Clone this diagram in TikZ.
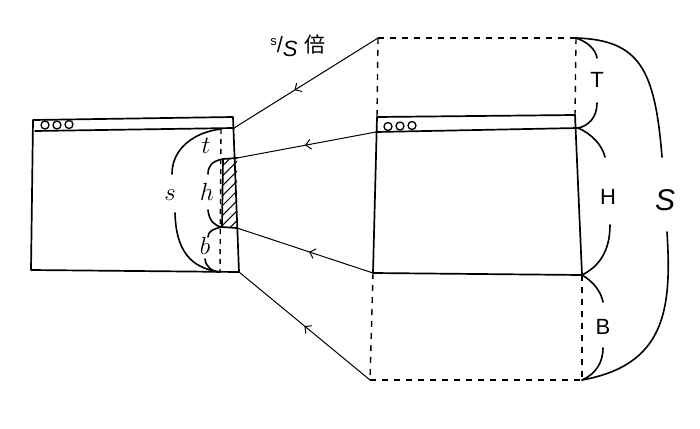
\documentclass[tikz,border=0pt]{standalone}
\usepackage{fontspec}
\setmainfont{Liberation Sans}
\newfontfamily\cjk{Noto Sans CJK JP}
\usetikzlibrary{decorations.markings,patterns.meta,arrows.meta}
\tikzset{
  box/.style={line width=1.7pt, line cap=round, line join=round},
  dashline/.style={line width=1.4pt, dash pattern=on 6pt off 6pt},
  brace/.style={line width=1.6pt, line cap=round},
  conn/.style={line width=1pt, postaction={decorate},
    decoration={markings, mark=at position #1 with {\arrow{Straight Barb[length=5pt,width=10pt,line width=1pt]}}}},
  lbl/.style={font=\fontsize{22}{22}\selectfont, inner sep=0pt},
  llbl/.style={font=\fontsize{24}{24}\selectfont, inner sep=0pt},
  dot/.style={circle, draw, line width=1.3pt, minimum size=8pt, inner sep=0pt},
}
\begin{document}
\begin{tikzpicture}[x=1pt,y=-1pt]
\useasboundingbox (0,0) rectangle (700,428);
\fill[white] (0,0) rectangle (700,428);
% ---------- small browser (left)
\coordinate (sTL) at (33,120);
\coordinate (sTR) at (233,117);
\coordinate (sBarL) at (35,131);
\coordinate (sBarR) at (234,128);
\coordinate (sBL) at (31,270);
\coordinate (sBR) at (239,272);
\coordinate (sDT) at (221,129);
\coordinate (sDB) at (220,272);
\coordinate (hTL) at (223,159);
\coordinate (hTR) at (237,158);
\coordinate (hBL) at (222,227);
\coordinate (hBR) at (237,228);
\fill[pattern={Lines[angle=45,distance=7pt,line width=1pt]}] (hTL) -- (hTR) -- (hBR) -- (hBL) -- cycle;
\draw[box] (hTL) -- (hTR) (hBL) -- (hBR) (hTL) -- (hBL);
\draw[box] (sBL) -- (sTL) -- (sTR) -- (sBR) -- (sBL);
\draw[box] (sBarL) -- (sBarR);
\draw[dashline, dash pattern=on 5pt off 5pt] (sDT) -- (sDB);
\node[dot] (c1) at (45,125) {};
\node[dot] (c2) at (57,125) {};
\node[dot] (c3) at (69,124.5) {};
% left braces
\draw[brace] (sDT) .. controls (195,132) and (172,148) .. (172,174);
\draw[brace] (175,213) .. controls (176,250) and (190,268) .. (sDB);
\draw[brace] (hTL) .. controls (212,161) and (208,166) .. (208,174);
\draw[brace] (208,210) .. controls (209,220) and (214,226) .. (hBL);
\draw[brace] (hBL) .. controls (212,229) and (208,232) .. (208,237);
\draw[brace] (205,259) .. controls (206,267) and (212,272) .. (sDB);
\node[llbl] (ls) at (170,195) {$s$};
\node[llbl] (lt) at (206,146) {$t$};
\node[llbl] (lh) at (207,192) {$h$};
\node[llbl] (lb) at (205,246) {$b$};
% ---------- big browser (right)
\coordinate (bTL) at (377,117);
\coordinate (bTR) at (575,115);
\coordinate (bBarL) at (376,132);
\coordinate (bBarR) at (578,128);
\coordinate (bBL) at (373,273);
\coordinate (bBR) at (582,275);
\coordinate (oTL) at (378,38);
\coordinate (oTR) at (576,38);
\coordinate (oBL) at (370,380);
\coordinate (oBR) at (582,380);
\draw[box] (bBL) -- (bTL) -- (bTR) -- (bBR) -- (bBL);
\draw[box] (bBarL) -- (bBarR);
\node[dot] (d1) at (388,126.5) {};
\node[dot] (d2) at (400,126) {};
\node[dot] (d3) at (412,125.5) {};
\draw[dashline] (oTL) -- (oTR);
\draw[dashline] (oTL) -- (bTL);
\draw[dashline] (oTR) -- (bTR);
\draw[dashline] (bBL) -- (oBL);
\draw[dashline] (bBR) -- (oBR);
\draw[dashline] (oBL) -- (oBR);
% right braces
\draw[brace] (oTR) .. controls (588,42) and (596,50) .. (597,58);
\draw[brace] (597,103) .. controls (597,118) and (588,126) .. (bBarR);
\draw[brace] (bBarR) .. controls (592,134) and (602,145) .. (605,157);
\draw[brace] (610,225) .. controls (610,250) and (600,266) .. (bBR);
\draw[brace] (bBR) .. controls (594,282) and (601,292) .. (603,302);
\draw[brace] (603,348) .. controls (603,362) and (596,374) .. (oBR);
\draw[brace] (oTR) .. controls (640,40) and (655,70) .. (662,157);
\draw[brace] (667,232) .. controls (672,310) and (665,365) .. (oBR);
\node[lbl] (rT) at (597,80) {T};
\node[lbl] (rH) at (608,197) {H};
\node[lbl] (rB) at (603,327) {B};
\node[font=\fontsize{30}{30}\selectfont\itshape, inner sep=0pt] (rS) at (665,200) {S};
% ---------- connectors
\draw[conn=0.58] (oTL) -- (sBarR);
\draw[conn=0.51] (bBarL) -- (hTR);
\draw[conn=0.47] (bBL) -- (hBR);
\draw[conn=0.5] (oBL) -- (sBR);
% ---------- scale label
\node[inner sep=0pt] (scale) at (298,46) {\raisebox{7pt}{\fontsize{13}{13}\selectfont s}\fontsize{22}{22}\selectfont/\raisebox{-4pt}{\itshape S}\hspace{7pt}{\cjk\fontsize{21}{21}\selectfont 倍}};
\end{tikzpicture}
\end{document}
